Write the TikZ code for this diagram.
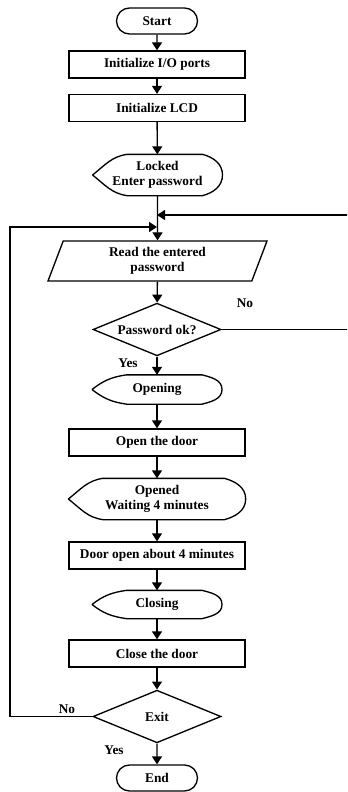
\documentclass[tikz,border=0pt]{standalone}
\usepackage{fontspec}
\setmainfont{Liberation Serif}
\usetikzlibrary{arrows.meta}
\usetikzlibrary{shapes.geometric}
\usetikzlibrary{shapes.misc}
\tikzset{base/.style = {font = \bfseries\fontsize{10}{11.5}\selectfont, align = center, inner sep = 0, line width = 1pt}}
\tikzset{term/.style = {base, draw, rounded rectangle, minimum width = 60.75pt, minimum height = 19.5pt}}
\tikzset{proc/.style = {base, draw, rectangle, minimum width = 132pt, minimum height = 20.25pt}}
\tikzset{disp/.style = {base, rectangle, minimum width = 96.5pt, minimum height = 21pt}}
\tikzset{inout/.style = {base, draw, trapezium, trapezium left angle = 61, trapezium right angle = 119, trapezium stretches body, minimum width = 164.25pt, minimum height = 30pt}}
\tikzset{decide/.style = {base, draw, diamond, aspect = 2.45, minimum width = 96pt, minimum height = 39.5pt}}
\tikzset{flow/.style = {line width = 1pt, -{Triangle[length = 6pt, width = 7.5pt]}}}
\tikzset{lbl/.style = {font = \bfseries\fontsize{10}{11.5}\selectfont, inner sep = 0}}

\begin{document}
\begin{tikzpicture}[x = 0.75pt, y = -0.75pt]
    \path [use as bounding box, clip] (0, 0) rectangle (347, 792);

    \node [term] (start) at (157, 21) {Start};
    \node [proc] (ports) at (157, 64.5) {Initialize I/O ports};
    \node [proc] (lcd) at (157, 108) {Initialize LCD};
    \node [disp, minimum height = 30pt] (locked) at (157.5, 175) {Locked\\Enter password};
    \node [inout] (read) at (157.5, 261) {Read the entered\\password};
    \node [decide] (ok) at (157, 329.5) {Password ok?};
    \node [disp] (opening) at (157, 389.5) {Opening};
    \node [proc] (opendoor) at (157, 442.5) {Open the door};
    \node [disp, minimum width = 132pt, minimum height = 30pt] (opened) at (157, 499) {Opened\\Waiting 4 minutes};
    \node [proc] (wait) at (157, 555.5) {Door open about 4 minutes};
    \node [disp, minimum height = 20.25pt] (closing) at (157, 604.5) {Closing};
    \node [proc] (closedoor) at (157, 653.5) {Close the door};
    \node [decide] (exit) at (157, 716.5) {Exit};
    \node [term] (end) at (157, 778) {End};

    % display outlines
    \foreach \n/\l/\r in {locked/26/15, opening/26/15, opened/26/16, closing/26/15} {
        \draw [line width = 1pt] (\n.west) to[out = 38, in = 188] ([xshift = \l pt]\n.north west)
            -- ([xshift = -\r pt]\n.north east) to[out = -15, in = 90] (\n.east)
            to[out = -90, in = 15] ([xshift = -\r pt]\n.south east)
            -- ([xshift = \l pt]\n.south west) to[out = 172, in = -38] (\n.west);
    }

    \coordinate (backr) at (157, 215);
    \coordinate (backl) at (157, 227);
    \coordinate (farr) at (349, 215);
    \coordinate (farl) at (10, 227);

    \draw [flow] (start) -- (ports);
    \draw [flow] (ports) -- (lcd);
    \draw [flow] (lcd) -- (locked);
    \draw [flow] (locked) -- (read);
    \draw [flow] (read) -- (ok);
    \draw [flow] (ok) -- (opening);
    \draw [flow] (opening) -- (opendoor);
    \draw [flow] (opendoor) -- (opened);
    \draw [flow] (opened) -- (wait);
    \draw [flow] (wait) -- (closing);
    \draw [flow] (closing) -- (closedoor);
    \draw [flow] (closedoor) -- (exit);
    \draw [flow] (exit) -- (end);

    \draw [flow] (ok.east) -| (farr) -- (backr);
    \draw [flow] (exit.west) -| (farl) -- (backl);

    \node [lbl] (no1) at (245, 303) {No};
    \node [lbl] (yes1) at (128, 363) {Yes};
    \node [lbl] (no2) at (67, 709) {No};
    \node [lbl] (yes2) at (114, 750) {Yes};
  \end{tikzpicture}
\end{document}
